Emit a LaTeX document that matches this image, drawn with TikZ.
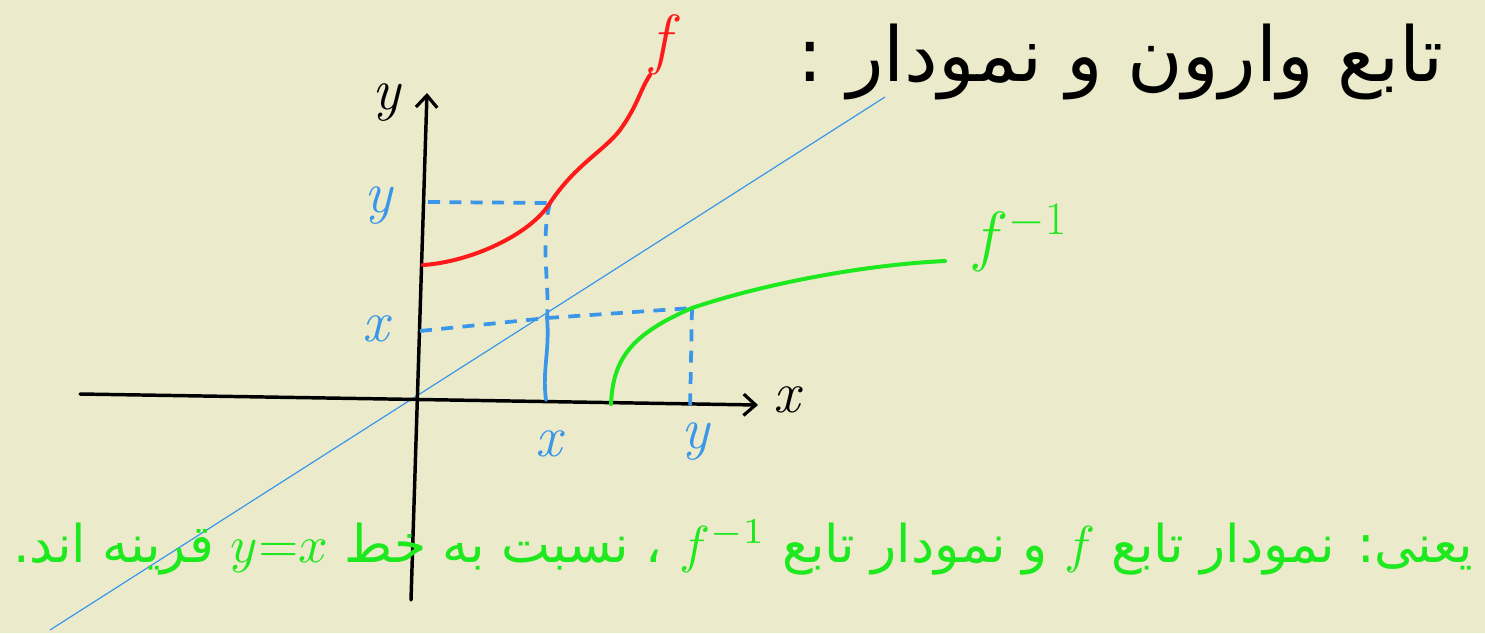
\documentclass[tikz,border=0pt]{standalone}
\usepackage{fix-cm}
\usepackage{fontspec}
\usetikzlibrary{arrows.meta}
\newfontfamily\arabicfont[Script=Arabic]{DejaVu Sans}
\TeXXeTstate=1
\definecolor{bg}{HTML}{EBEBCC}
\definecolor{hblue}{HTML}{3A96E8}
\definecolor{hred}{HTML}{FF1A1A}
\definecolor{hgreen}{HTML}{1EE81E}
\tikzset{
  axis/.style={line width=2.6pt,black,line cap=round},
  arr/.style={-{Straight Barb[length=9pt,width=16pt,line width=2.4pt]}},
  curvef/.style={line width=3pt,hred,line cap=round,line join=round},
  curveg/.style={line width=3pt,hgreen,line cap=round,line join=round},
  diag/.style={line width=0.9pt,hblue},
  guide/.style={line width=2.8pt,hblue,dash pattern=on 9pt off 7pt},
  guidesolid/.style={line width=2.8pt,hblue,line cap=round},
  bluelab/.style={text=hblue,font=\fontsize{44}{44}\selectfont\itshape},
  blacklab/.style={text=black,font=\fontsize{44}{44}\selectfont\itshape},
}
\begin{document}
\begin{tikzpicture}[x=0.75pt,y=-0.75pt]
\fill[bg] (0,0) rectangle (1485,633);
\useasboundingbox (0,0) rectangle (1485,633);
% line y=x
\coordinate (d1) at (50,630);
\coordinate (d2) at (885,97);
\draw[diag] (d1) -- (d2);
% axes
\coordinate (xl) at (80,394);
\coordinate (xr) at (758,405);
\coordinate (yb) at (411,600);
\coordinate (yt) at (427,93);
\draw[axis,arr] (xl) -- (xr);
\draw[axis,arr] (yb) -- (yt);
\node[blacklab] (xlab) at (787,400) {x};
\node[blacklab] (ylab) at (386,103) {y};
% guides
\coordinate (P) at (550,203);
\coordinate (Q) at (547,318);
\coordinate (R) at (692,308);
\coordinate (Py) at (428,202);
\coordinate (Qy) at (420,331);
\coordinate (Qx) at (546,400);
\coordinate (Rx) at (690,412);
\draw[guide] (Py) -- (P);
\draw[guide] (P) .. controls (540,240) and (550,290) .. (Q);
\draw[guide] (Qy) -- (Q);
\draw[guide] (Q) -- (R);
\draw[guide] (R) -- (Rx);
\draw[guidesolid] (Q) .. controls (550,350) and (542,370) .. (Qx);
\node[bluelab] (ly) at (378,206) {y};
\node[bluelab] (lx) at (376,329) {x};
\node[bluelab] (lx2) at (549,444) {x};
\node[bluelab] (ly2) at (695,442) {y};
% f
\coordinate (f0) at (423,265);
\coordinate (f1) at (650,75);
\draw[curvef] (f0) .. controls (470,262) and (530,235) .. (P)
   .. controls (575,165) and (605,150) .. (620,130)
   .. controls (638,105) and (640,90) .. (f1);
\node[text=hred,font=\fontsize{50}{50}\selectfont\itshape] (flab) at (660,45) {f};
% f^-1
\coordinate (g0) at (611,404);
\coordinate (g1) at (945,261);
\draw[curveg] (g0) .. controls (613,358) and (632,334) .. (R)
   .. controls (760,285) and (860,265) .. (g1);
\node[text=hgreen,font=\fontsize{50}{50}\selectfont] (glab) at (1018,238) {$f^{-1}$};
% titles
\node[anchor=east,text=black] (title) at (1448,62)
  {\resizebox{484pt}{!}{\arabicfont\beginR تابع وارون و نمودار :\endR}};
\node[anchor=east,text=hgreen] (note) at (1478,548)
  {\resizebox{1095pt}{!}{\arabicfont\beginR یعنی: نمودار تابع \beginL$f$\endL{} و نمودار تابع \beginL$f^{-1}$\endL{} ، نسبت به خط \beginL$y{=}x$\endL{} قرینه اند.\endR}};
\end{tikzpicture}
\end{document}
